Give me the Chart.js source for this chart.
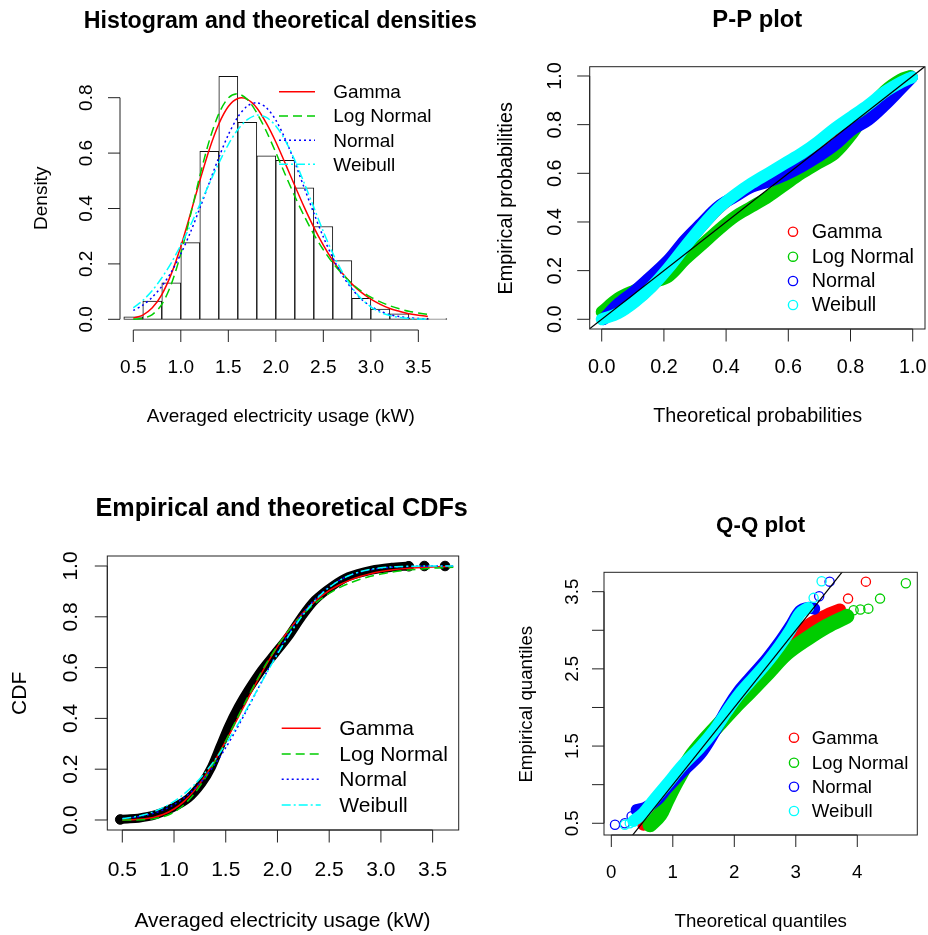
<!DOCTYPE html>
<html>
<head>
<meta charset="utf-8">
<script src="https://cdn.jsdelivr.net/npm/chart.js@4.4.1/dist/chart.umd.min.js"></script>
<style>
  body { margin: 0; background: #fff; }
  #wrap { position: relative; width: 928px; height: 935px; }
  canvas { position: absolute; }
</style>
</head>
<body>
<div id="wrap">
  <canvas id="hist" width="500" height="468" style="left:0;top:0"></canvas>
  <canvas id="cdf" width="500" height="467" style="left:0;top:468px"></canvas>
  <canvas id="pp" width="464" height="468" style="left:464px;top:0"></canvas>
  <canvas id="qq" width="464" height="467" style="left:464px;top:468px"></canvas>
</div>
<script>
// fitted distributions, R default colours 2:5
const fitNames = ['Gamma', 'Log Normal', 'Normal', 'Weibull'];
const fitColors = ['#FF0000', '#00CD00', '#0000FF', '#00FFFF'];
const fitDash = [[], [9, 5], [2, 3], [9, 3, 2, 3]];

// histogram (bin left edges, width 0.2) and densities
const histLeft = [0.4, 0.6, 0.8, 1.0, 1.2, 1.4, 1.6, 1.8, 2.0, 2.2, 2.4, 2.6, 2.8, 3.0, 3.2, 3.4, 3.6];
const histDensity = [0.009, 0.066, 0.132, 0.277, 0.606, 0.877, 0.711, 0.590, 0.574, 0.475, 0.335, 0.212, 0.076, 0.037, 0.020, 0.004, 0.003];

const densX = [0.5, 0.6, 0.7, 0.8, 0.9, 1.0, 1.1, 1.2, 1.3, 1.4, 1.5, 1.6, 1.7, 1.8, 1.9, 2.0,
               2.1, 2.2, 2.3, 2.4, 2.5, 2.6, 2.7, 2.8, 2.9, 3.0, 3.1, 3.2, 3.3, 3.4, 3.5, 3.6];
const densGamma = [0.0042, 0.0153, 0.0414, 0.0895, 0.164, 0.263, 0.379, 0.500, 0.613, 0.705, 0.768, 0.797, 0.794, 0.763, 0.708, 0.640,
                   0.562, 0.482, 0.404, 0.332, 0.268, 0.212, 0.166, 0.128, 0.097, 0.073, 0.054, 0.039, 0.029, 0.020, 0.0146, 0.0103];
const densLnorm = [0.0004, 0.0035, 0.017, 0.054, 0.127, 0.237, 0.374, 0.517, 0.645, 0.742, 0.799, 0.814, 0.794, 0.745, 0.679, 0.602,
                   0.522, 0.444, 0.372, 0.307, 0.251, 0.203, 0.163, 0.129, 0.102, 0.080, 0.063, 0.049, 0.038, 0.029, 0.023, 0.0175];
const densNorm = [0.032, 0.051, 0.080, 0.119, 0.171, 0.236, 0.313, 0.401, 0.493, 0.584, 0.666, 0.730, 0.770, 0.782, 0.764, 0.719,
                  0.650, 0.566, 0.474, 0.383, 0.297, 0.222, 0.159, 0.110, 0.073, 0.047, 0.029, 0.017, 0.0098, 0.0054, 0.0028, 0.0014];
const densWeib = [0.041, 0.068, 0.104, 0.150, 0.204, 0.268, 0.338, 0.414, 0.490, 0.564, 0.631, 0.685, 0.721, 0.737, 0.729, 0.698,
                  0.645, 0.574, 0.491, 0.404, 0.317, 0.238, 0.170, 0.115, 0.074, 0.045, 0.025, 0.0135, 0.0067, 0.003, 0.0013, 0.0005];

// P-P plot (theoretical, empirical)
const ppGammaX = [0.0, 0.053, 0.107, 0.161, 0.214, 0.268, 0.321, 0.375, 0.428, 0.482, 0.536, 0.589, 0.643, 0.696, 0.75, 0.804, 0.857, 0.911, 0.964, 0.998];
const ppGammaY = [0.0, 0.024, 0.07, 0.13, 0.205, 0.292, 0.376, 0.45, 0.505, 0.553, 0.594, 0.635, 0.676, 0.724, 0.778, 0.826, 0.875, 0.93, 0.972, 0.995];
const ppLnormX = [0.0, 0.053, 0.107, 0.16, 0.214, 0.268, 0.321, 0.375, 0.428, 0.482, 0.536, 0.589, 0.643, 0.696, 0.75, 0.804, 0.857, 0.911, 0.96, 0.993];
const ppLnormY = [0.03, 0.086, 0.12, 0.15, 0.175, 0.245, 0.305, 0.367, 0.422, 0.463, 0.504, 0.552, 0.60, 0.641, 0.682, 0.76, 0.86, 0.94, 0.985, 1.0];
const ppNormX = [0.005, 0.05, 0.10, 0.14, 0.214, 0.268, 0.321, 0.375, 0.428, 0.482, 0.536, 0.589, 0.643, 0.696, 0.75, 0.804, 0.857, 0.911, 0.964, 0.998];
const ppNormY = [0.0, 0.06, 0.11, 0.155, 0.243, 0.326, 0.395, 0.463, 0.504, 0.545, 0.566, 0.593, 0.628, 0.669, 0.717, 0.778, 0.819, 0.881, 0.95, 0.995];
const ppWeibX = [0.0, 0.053, 0.107, 0.161, 0.214, 0.268, 0.321, 0.375, 0.428, 0.482, 0.536, 0.589, 0.643, 0.696, 0.75, 0.804, 0.857, 0.911, 0.964, 0.998];
const ppWeibY = [0.0, 0.025, 0.072, 0.134, 0.21, 0.298, 0.381, 0.456, 0.511, 0.559, 0.60, 0.641, 0.682, 0.73, 0.785, 0.833, 0.881, 0.935, 0.975, 0.995];

// empirical and theoretical CDFs
const ecdfX = [0.48, 0.55, 0.655, 0.816, 0.977, 1.138, 1.268, 1.364, 1.445, 1.525, 1.622, 1.718, 1.848, 1.976, 2.105, 2.234, 2.363, 2.524, 2.685, 2.911, 3.104, 3.265];
const ecdfY = [0.003, 0.004, 0.007, 0.02, 0.046, 0.085, 0.144, 0.21, 0.289, 0.367, 0.446, 0.512, 0.591, 0.656, 0.722, 0.80, 0.866, 0.919, 0.958, 0.984, 0.995, 1.0];
const ecdfDotX = [0.48, 3.27, 3.42, 3.62];
const ecdfDotY = [0.002, 0.999, 1.0, 1.0];

const cdfX = [0.5, 0.6, 0.7, 0.8, 0.9, 1.0, 1.1, 1.2, 1.3, 1.4, 1.5, 1.6, 1.7, 1.8, 1.9, 2.0,
              2.1, 2.2, 2.3, 2.4, 2.5, 2.6, 2.7, 2.8, 2.9, 3.0, 3.1, 3.2, 3.3, 3.4, 3.5, 3.6, 3.7];
const cdfGamma = [0.0003, 0.0012, 0.0039, 0.0102, 0.0224, 0.0433, 0.0744, 0.1176, 0.1721, 0.2373, 0.3103, 0.3878, 0.4664, 0.5434, 0.6162, 0.6828,
                  0.7421, 0.7935, 0.8371, 0.8733, 0.9027, 0.9262, 0.9446, 0.9589, 0.9698, 0.9780, 0.9842, 0.9887, 0.9920, 0.9943, 0.9960, 0.9972, 0.9980];
const cdfLnorm = [0.0000, 0.0002, 0.0010, 0.0044, 0.0131, 0.0310, 0.0613, 0.1058, 0.1643, 0.2339, 0.3113, 0.3922, 0.4728, 0.5500, 0.6214, 0.6853,
                  0.7415, 0.7899, 0.8306, 0.8646, 0.8924, 0.9150, 0.9332, 0.9477, 0.9593, 0.9684, 0.9755, 0.9811, 0.9854, 0.9887, 0.9913, 0.9933, 0.9948];
const cdfNorm = [0.0057, 0.0098, 0.0163, 0.0261, 0.0405, 0.0607, 0.0880, 0.1237, 0.1683, 0.2221, 0.2847, 0.3546, 0.4300, 0.5078, 0.5854, 0.6598,
                 0.7283, 0.7893, 0.8413, 0.8842, 0.9180, 0.9439, 0.9628, 0.9761, 0.9852, 0.9912, 0.9949, 0.9972, 0.9985, 0.9992, 0.9996, 0.9998, 0.9999];
const cdfWeib = [0.0054, 0.0109, 0.0194, 0.0321, 0.0497, 0.0732, 0.1035, 0.1410, 0.1862, 0.2390, 0.2988, 0.3647, 0.4352, 0.5082, 0.5817, 0.6532,
                 0.7205, 0.7817, 0.8349, 0.8796, 0.9156, 0.9434, 0.9636, 0.9777, 0.9871, 0.9929, 0.9963, 0.9982, 0.9992, 0.9997, 0.9999, 1.0, 1.0];

// Q-Q plot: dense band of points, then separate end points
const qqGammaX = [0.52, 0.65, 0.80, 1.00, 1.30, 1.70, 2.10, 2.50, 2.78, 3.02, 3.20, 3.50, 3.72];
const qqGammaY = [0.48, 0.60, 0.77, 1.00, 1.32, 1.72, 2.10, 2.50, 2.78, 2.93, 3.07, 3.20, 3.27];
const qqGammaOutX = [3.85, 4.14];
const qqGammaOutY = [3.41, 3.63];
const qqLnormX = [0.63, 0.79, 0.90, 1.06, 1.33, 1.77, 2.00, 2.25, 2.55, 2.85, 3.20, 3.50, 3.83];
const qqLnormY = [0.48, 0.61, 0.79, 1.04, 1.40, 1.80, 2.00, 2.20, 2.45, 2.70, 2.90, 3.05, 3.18];
const qqLnormOutX = [3.94, 4.05, 4.18, 4.37, 4.79];
const qqLnormOutY = [3.26, 3.27, 3.28, 3.41, 3.61];
const qqNormX = [0.41, 0.55, 0.74, 0.90, 1.17, 1.44, 1.66, 1.88, 2.09, 2.31, 2.53, 2.74, 2.91, 3.07, 3.20, 3.30];
const qqNormY = [0.67, 0.70, 0.80, 0.95, 1.18, 1.39, 1.66, 1.98, 2.23, 2.43, 2.63, 2.85, 3.05, 3.25, 3.29, 3.28];
const qqNormOutX = [0.06, 0.22, 0.33, 3.38, 3.55];
const qqNormOutY = [0.48, 0.50, 0.59, 3.44, 3.63];
const qqWeibX = [0.36, 0.52, 0.68, 0.90, 1.17, 1.44, 1.66, 1.88, 2.09, 2.31, 2.53, 2.74, 2.91, 3.07, 3.20];
const qqWeibY = [0.53, 0.63, 0.79, 1.00, 1.26, 1.48, 1.69, 1.95, 2.18, 2.38, 2.58, 2.80, 3.00, 3.22, 3.29];
const qqWeibOutX = [0.22, 0.30, 3.29, 3.42];
const qqWeibOutY = [0.48, 0.50, 3.42, 3.635];

// axis ticks
const histXTicks = [0.5, 1.0, 1.5, 2.0, 2.5, 3.0, 3.5];
const histYTicks = [0.0, 0.2, 0.4, 0.6, 0.8];
const probTicks = [0.0, 0.2, 0.4, 0.6, 0.8, 1.0];
const qqXTicks = [0, 1, 2, 3, 4];
const qqYTicks = [0.5, 1.0, 1.5, 2.0, 2.5, 3.0, 3.5];
const qqYTickLabels = ['0.5', '', '1.5', '', '2.5', '', '3.5'];

const FONT = 'Liberation Sans, Arial, Helvetica, sans-serif';
const xy = (xs, ys) => xs.map((x, i) => ({ x: x, y: ys[i] }));
const fix1 = v => v.toFixed(1);

// R base graphics look: axes at the plot region edges, rotated y labels, legend without frame
const rAxes = {
  id: 'rAxes',
  afterDraw(chart, args, o) {
    const ctx = chart.ctx, a = chart.chartArea;
    const sx = chart.scales.x, sy = chart.scales.y;
    ctx.save();
    ctx.strokeStyle = '#222';
    ctx.fillStyle = '#000';
    ctx.lineWidth = 1;
    if (o.box) ctx.strokeRect(a.left, a.top, a.right - a.left, a.bottom - a.top);

    const xp = o.xTicks.map(v => sx.getPixelForValue(v));
    const yp = o.yTicks.map(v => sy.getPixelForValue(v));
    ctx.beginPath();
    ctx.moveTo(xp[0], a.bottom);
    ctx.lineTo(xp[xp.length - 1], a.bottom);
    xp.forEach(p => { ctx.moveTo(p, a.bottom); ctx.lineTo(p, a.bottom + o.tick); });
    ctx.moveTo(a.left, yp[0]);
    ctx.lineTo(a.left, yp[yp.length - 1]);
    yp.forEach(p => { ctx.moveTo(a.left, p); ctx.lineTo(a.left - o.tick, p); });
    ctx.stroke();

    ctx.font = o.size + 'px ' + FONT;
    ctx.textAlign = 'center';
    ctx.textBaseline = 'alphabetic';
    o.xLabels.forEach((t, i) => ctx.fillText(t, xp[i], o.xTickBase));
    o.yLabels.forEach((t, i) => {
      if (!t) return;
      ctx.save();
      ctx.translate(o.yTickBase, yp[i]);
      ctx.rotate(-Math.PI / 2);
      ctx.fillText(t, 0, 0);
      ctx.restore();
    });

    ctx.fillText(o.xTitle[0], o.xTitle[1], o.xTitle[2]);
    ctx.save();
    ctx.translate(o.yTitle[1], o.yTitle[2]);
    ctx.rotate(-Math.PI / 2);
    ctx.fillText(o.yTitle[0], 0, 0);
    ctx.restore();

    // legend
    const lg = o.legend;
    ctx.textAlign = 'left';
    ctx.textBaseline = 'middle';
    fitNames.forEach((name, i) => {
      const y = lg.ys[i];
      ctx.strokeStyle = fitColors[i];
      if (lg.kind === 'line') {
        ctx.lineWidth = 1.6;
        ctx.setLineDash(fitDash[i]);
        ctx.beginPath();
        ctx.moveTo(lg.x0, y);
        ctx.lineTo(lg.x1, y);
        ctx.stroke();
        ctx.setLineDash([]);
      } else {
        ctx.lineWidth = 1.4;
        ctx.beginPath();
        ctx.arc(lg.cx, y, 4.6, 0, Math.PI * 2);
        ctx.stroke();
      }
      ctx.fillStyle = '#000';
      ctx.fillText(name, lg.tx, y + 1);
    });

    ctx.font = 'bold ' + o.title[3] + 'px ' + FONT;
    ctx.textAlign = 'center';
    ctx.textBaseline = 'alphabetic';
    ctx.fillText(o.title[0], o.title[1], o.title[2]);
    ctx.restore();
  }
};

function options(xr, yr, pad, r) {
  return {
    responsive: false,
    animation: false,
    events: [],
    layout: { padding: pad },
    plugins: { legend: { display: false }, tooltip: { enabled: false }, rAxes: r },
    scales: {
      x: { type: 'linear', min: xr[0], max: xr[1], display: false, offset: false },
      y: { type: 'linear', min: yr[0], max: yr[1], display: false }
    }
  };
}

function curve(i, xs, ys) {
  return {
    type: 'line', data: xy(xs, ys), borderColor: fitColors[i], borderWidth: 1.5,
    borderDash: fitDash[i], pointRadius: 0, tension: 0.3, fill: false, order: 3 - i
  };
}

function band(i, xs, ys, w) {
  return {
    type: 'line', data: xy(xs, ys), borderColor: fitColors[i], borderWidth: w,
    borderCapStyle: 'round', borderJoinStyle: 'round', pointRadius: 0, tension: 0.35,
    fill: false, order: 3 - i
  };
}

function rings(i, xs, ys) {
  return {
    type: 'line', data: xy(xs, ys), showLine: false, pointRadius: 4.6, pointBorderWidth: 1.3,
    pointBorderColor: fitColors[i], pointBackgroundColor: 'rgba(0,0,0,0)', order: 3 - i
  };
}

// 1. histogram and theoretical densities
new Chart(document.getElementById('hist'), {
  type: 'line',
  data: {
    datasets: [
      {
        type: 'bar',
        data: histLeft.map((l, i) => ({ x: l + 0.1, y: histDensity[i] })),
        backgroundColor: '#fff', borderColor: '#111', borderWidth: 1,
        borderSkipped: false, barPercentage: 1, categoryPercentage: 1, order: 10
      },
      curve(0, densX, densGamma),
      curve(1, densX, densLnorm),
      curve(2, densX, densNorm),
      curve(3, densX, densWeib)
    ]
  },
  options: options([0.360, 3.949], [-0.0386, 0.9119], { left: 120, top: 66.7, right: 39, bottom: 138 }, {
    box: false, tick: 12, size: 19,
    xTicks: histXTicks, xLabels: histXTicks.map(fix1), xTickBase: 373.3,
    yTicks: histYTicks, yLabels: histYTicks.map(fix1), yTickBase: 91.7,
    xTitle: ['Averaged electricity usage (kW)', 280.8, 421.5],
    yTitle: ['Density', 46.7, 198.3],
    title: ['Histogram and theoretical densities', 280.3, 28.3, 23.2],
    legend: { kind: 'line', x0: 279, x1: 315, tx: 333.3, ys: [91.7, 116, 140.3, 164.3] }
  }),
  plugins: [rAxes]
});

// 2. P-P plot
new Chart(document.getElementById('pp'), {
  type: 'line',
  data: {
    datasets: [
      band(0, ppGammaX, ppGammaY, 10),
      band(1, ppLnormX, ppLnormY, 12),
      band(2, ppNormX, ppNormY, 12),
      band(3, ppWeibX, ppWeibY, 12),
      { type: 'line', data: xy([-0.04, 1.04], [-0.04, 1.04]), borderColor: '#000', borderWidth: 1.2, pointRadius: 0, order: -1 }
    ]
  },
  options: options([-0.0386, 1.0395], [-0.0399, 1.0382], { left: 125.7, top: 66.7, right: 3, bottom: 139 }, {
    box: true, tick: 12.5, size: 19.8,
    xTicks: probTicks, xLabels: probTicks.map(fix1), xTickBase: 373.3,
    yTicks: probTicks, yLabels: probTicks.map(fix1), yTickBase: 96.7,
    xTitle: ['Theoretical probabilities', 293.7, 421.7],
    yTitle: ['Empirical probabilities', 48.3, 198.3],
    title: ['P-P plot', 293.3, 26.5, 23.8],
    legend: { kind: 'circle', cx: 329, tx: 347.7, ys: [231.7, 256.7, 281, 305] }
  }),
  plugins: [rAxes]
});

// 3. empirical and theoretical CDFs
new Chart(document.getElementById('cdf'), {
  type: 'line',
  data: {
    datasets: [
      { type: 'line', data: xy(ecdfX, ecdfY), borderColor: '#000', borderWidth: 9, borderCapStyle: 'round',
        borderJoinStyle: 'round', pointRadius: 0, tension: 0.3, order: 10 },
      { type: 'line', data: xy(ecdfDotX, ecdfDotY), showLine: false, pointRadius: 4.8,
        pointBackgroundColor: '#000', pointBorderColor: '#000', order: 9 },
      curve(0, cdfX, cdfGamma),
      curve(1, cdfX, cdfLnorm),
      curve(2, cdfX, cdfNorm),
      curve(3, cdfX, cdfWeib)
    ]
  },
  options: options([0.355, 3.752], [-0.0394, 1.0394], { left: 107.3, top: 88, right: 41.3, bottom: 105 }, {
    box: true, tick: 12.5, size: 21,
    xTicks: histXTicks, xLabels: histXTicks.map(fix1), xTickBase: 408,
    yTicks: probTicks, yLabels: probTicks.map(fix1), yTickBase: 77.3,
    xTitle: ['Averaged electricity usage (kW)', 282.5, 458.7],
    yTitle: ['CDF', 26, 225.3],
    title: ['Empirical and theoretical CDFs', 281.7, 48, 25.2],
    legend: { kind: 'line', x0: 281.7, x1: 320.7, tx: 339.3, ys: [260.3, 286, 311.3, 337] }
  }),
  plugins: [rAxes]
});

// 4. Q-Q plot
new Chart(document.getElementById('qq'), {
  type: 'line',
  data: {
    datasets: [
      band(0, qqGammaX, qqGammaY, 12), rings(0, qqGammaOutX, qqGammaOutY),
      band(1, qqLnormX, qqLnormY, 15), rings(1, qqLnormOutX, qqLnormOutY),
      band(2, qqNormX, qqNormY, 12), rings(2, qqNormOutX, qqNormOutY),
      band(3, qqWeibX, qqWeibY, 12), rings(3, qqWeibOutX, qqWeibOutY),
      { type: 'line', data: xy([0.2, 4.2], [0.2, 4.2]), borderColor: '#000', borderWidth: 1.2, pointRadius: 0, order: -1 }
    ]
  },
  options: options([-0.119, 4.976], [0.348, 3.751], { left: 140, top: 104.3, right: 10.7, bottom: 100 }, {
    box: true, tick: 12, size: 18.7,
    xTicks: qqXTicks, xLabels: qqXTicks.map(String), xTickBase: 410.3,
    yTicks: qqYTicks, yLabels: qqYTickLabels, yTickBase: 114,
    xTitle: ['Theoretical quantiles', 296.7, 458.7],
    yTitle: ['Empirical quantiles', 68.3, 236.2],
    title: ['Q-Q plot', 296.7, 63.7, 22.3],
    legend: { kind: 'circle', cx: 330, tx: 347.7, ys: [269.7, 294.7, 318.7, 343] }
  }),
  plugins: [rAxes]
});
</script>
</body>
</html>
